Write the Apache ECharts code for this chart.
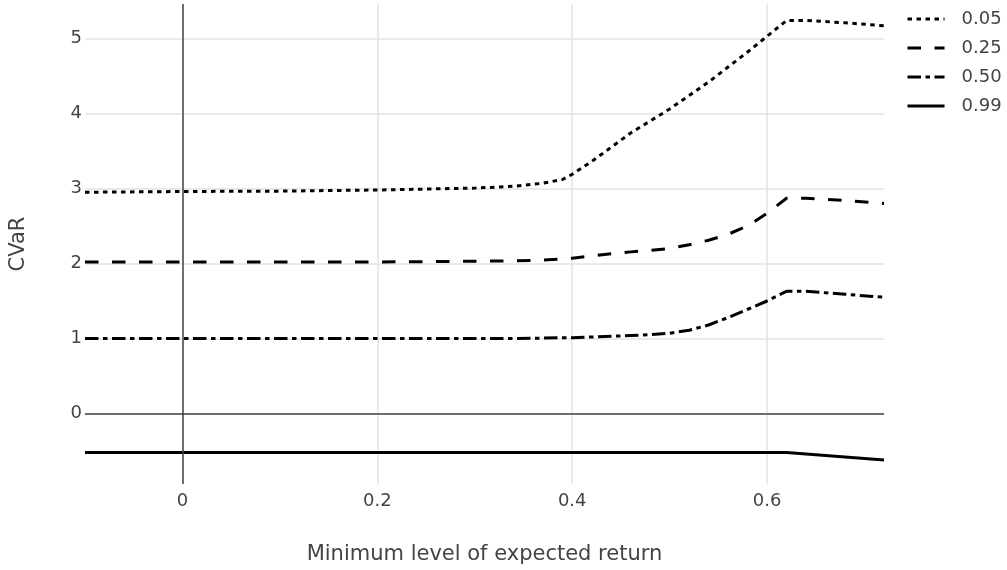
<!DOCTYPE html>
<html>
<head>
<meta charset="utf-8">
<script src="https://cdn.jsdelivr.net/npm/echarts@6/dist/echarts.min.js"></script>
<style>
html,body{margin:0;padding:0;background:#fff;}
#chart{width:1007px;height:570px;}
</style>
</head>
<body>
<div id="chart"></div>
<script>
var seriesNames = ['0.05', '0.25', '0.50', '0.99'];
var xs  = [-0.1, 0, 0.1, 0.2, 0.3, 0.34, 0.37, 0.39, 0.4, 0.42, 0.44, 0.46, 0.48, 0.5, 0.52, 0.54, 0.56, 0.58, 0.6, 0.62, 0.64, 0.68, 0.72];
var q05 = [2.95, 2.96, 2.965, 2.98, 3.005, 3.03, 3.07, 3.12, 3.19, 3.36, 3.55, 3.74, 3.90, 4.06, 4.24, 4.42, 4.62, 4.82, 5.03, 5.24, 5.24, 5.21, 5.17];
var q25 = [2.02, 2.02, 2.02, 2.02, 2.03, 2.035, 2.045, 2.06, 2.07, 2.10, 2.13, 2.155, 2.175, 2.20, 2.25, 2.31, 2.39, 2.50, 2.67, 2.87, 2.87, 2.84, 2.80];
var q50 = [1.0, 1.0, 1.0, 1.0, 1.0, 1.0, 1.005, 1.01, 1.01, 1.02, 1.03, 1.04, 1.05, 1.07, 1.11, 1.18, 1.28, 1.39, 1.50, 1.63, 1.63, 1.59, 1.55];
var q99 = [-0.52, -0.52, -0.52, -0.52, -0.52, -0.52, -0.52, -0.52, -0.52, -0.52, -0.52, -0.52, -0.52, -0.52, -0.52, -0.52, -0.52, -0.52, -0.52, -0.52, -0.54, -0.58, -0.62];
var xTitle = 'Minimum level of expected return';
var yTitle = 'CVaR';

var allY = [q05, q25, q50, q99];
var dashTypes = [[4.5, 4.5], [13.5, 13.5], [13.5, 4.5, 4.5, 4.5], 'solid'];
var FONT = 'DejaVu Sans';
var TXT = '#444';

function pairs(ys) { return xs.map(function (x, i) { return [x, ys[i]]; }); }

var series = [{
  type: 'line', data: [], z: 1, silent: true,
  markLine: {
    silent: true, symbol: 'none', animation: false,
    label: { show: false },
    lineStyle: { color: '#444', width: 1.5, type: 'solid' },
    emphasis: { disabled: true },
    data: [{ xAxis: 0 }, { yAxis: 0 }]
  }
}];
seriesNames.forEach(function (n, i) {
  series.push({
    name: n, type: 'line', data: pairs(allY[i]), z: 3,
    symbol: 'none', showSymbol: false, animation: false,
    lineStyle: { color: '#000', width: 3, type: dashTypes[i], cap: 'butt' },
    itemStyle: { color: '#000' },
    emphasis: { disabled: true }
  });
});

var chart = echarts.init(document.getElementById('chart'), null, { renderer: 'canvas' });
chart.setOption({
  animation: false,
  backgroundColor: '#fff',
  textStyle: { fontFamily: FONT, color: TXT },
  grid: { left: 83, right: 123, top: 4, bottom: 86, containLabel: false },
  legend: {
    data: seriesNames, orient: 'vertical', left: 901, top: 5,
    itemWidth: 37, itemHeight: 14, itemGap: 11,
    itemStyle: { color: 'rgba(0,0,0,0)', borderWidth: 0, opacity: 0 },
    lineStyle: { width: 3, color: '#000' },
    textStyle: { fontFamily: FONT, fontSize: 18, color: TXT, padding: [0, 0, 0, 12] }
  },
  xAxis: {
    type: 'value', min: -0.1, max: 0.72, minInterval: 0.2, maxInterval: 0.2,
    name: xTitle, nameLocation: 'middle', nameGap: 60,
    nameTextStyle: { fontFamily: FONT, fontSize: 21, color: TXT },
    axisLine: { show: false }, axisTick: { show: false },
    axisLabel: { fontFamily: FONT, fontSize: 18, color: TXT, margin: 8, showMinLabel: false, showMaxLabel: false },
    splitLine: { show: true, showMinLine: false, showMaxLine: false, lineStyle: { color: '#e3e3e3', width: 1.5 } }
  },
  yAxis: {
    type: 'value', min: -0.94, max: 5.46, minInterval: 1, maxInterval: 1,
    name: yTitle, nameLocation: 'middle', nameGap: 56, nameRotate: 90,
    nameTextStyle: { fontFamily: FONT, fontSize: 21, color: TXT },
    axisLine: { show: false }, axisTick: { show: false },
    axisLabel: { fontFamily: FONT, fontSize: 18, color: TXT, margin: 3, showMinLabel: false, showMaxLabel: false },
    splitLine: { show: true, showMinLine: false, showMaxLine: false, lineStyle: { color: '#e3e3e3', width: 1.5 } }
  },
  series: series
});
</script>
</body>
</html>
